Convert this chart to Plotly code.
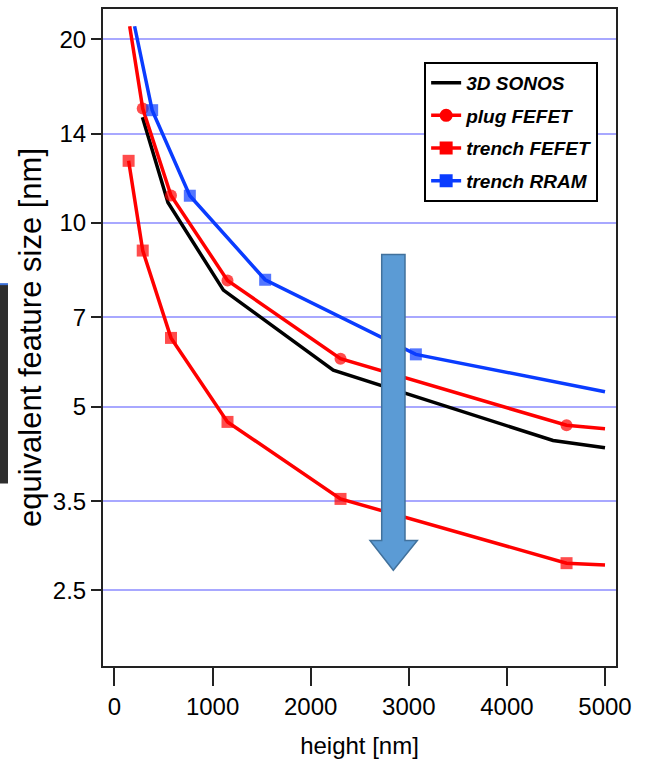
import plotly.graph_objects as go

# Equivalent feature size vs. stack height for 3D memory options
sonos_h = [285, 545, 1110, 2230, 4470, 5000]
sonos_f = [14.9, 10.8, 7.76, 5.74, 4.40, 4.28]

plug_h = [155, 288, 576, 1152, 2304, 4608, 5000]
plug_f = [21.0, 15.4, 11.09, 8.05, 5.99, 4.66, 4.60]
plug_marked = [False, True, True, True, True, True, False]

trench_fefet_h = [144, 288, 576, 1152, 2304, 4608, 5000]
trench_fefet_f = [12.64, 9.01, 6.48, 4.72, 3.53, 2.77, 2.75]
trench_fefet_marked = [True, True, True, True, True, True, False]

rram_h = [205, 384, 768, 1536, 3072, 5000]
rram_f = [21.0, 15.3, 11.08, 8.07, 6.09, 5.29]
rram_marked = [False, True, True, True, True, False]

y_ticks = [2.5, 3.5, 5, 7, 10, 14, 20]
x_ticks = [0, 1000, 2000, 3000, 4000, 5000]

RED = "#ff0000"
BLUE = "#0a3cff"
BLACK = "#000000"
SANS = "Liberation Sans, Arial, sans-serif"
LW = 3.5


def sizes(marked, s):
    return [s if m else 0 for m in marked]


fig = go.Figure()

fig.add_trace(go.Scatter(x=sonos_h, y=sonos_f, mode="lines",
                         line=dict(color=BLACK, width=LW), showlegend=False))
fig.add_trace(go.Scatter(x=plug_h, y=plug_f, mode="lines+markers",
                         line=dict(color=RED, width=LW),
                         marker=dict(symbol="circle", size=sizes(plug_marked, 12), color=RED,
                                     line=dict(width=0)),
                         showlegend=False))
fig.add_trace(go.Scatter(x=trench_fefet_h, y=trench_fefet_f, mode="lines+markers",
                         line=dict(color=RED, width=LW),
                         marker=dict(symbol="square", size=sizes(trench_fefet_marked, 12), color=RED,
                                     line=dict(width=0)),
                         showlegend=False))
fig.add_trace(go.Scatter(x=rram_h, y=rram_f, mode="lines+markers",
                         line=dict(color=BLUE, width=LW),
                         marker=dict(symbol="square", size=sizes(rram_marked, 12), color=BLUE,
                                     line=dict(width=0)),
                         showlegend=False))

# legend entries
legend_items = [
    ("3D SONOS", BLACK, None),
    ("plug FEFET", RED, "circle"),
    ("trench FEFET", RED, "square"),
    ("trench RRAM", BLUE, "square"),
]
for name, color, symbol in legend_items:
    fig.add_trace(go.Scatter(
        x=[None], y=[None], name=name, legendgroup=name,
        mode="lines" if symbol is None else "lines+markers",
        line=dict(color=color, width=LW),
        marker=dict(symbol=symbol or "circle", size=13, color=color),
    ))

# downward trend arrow
arrow_path = ("M 0.5433 0.6263 L 0.5887 0.6263 L 0.5887 0.1912 L 0.6127 0.1912 "
              "L 0.5659 0.1457 L 0.5205 0.1912 L 0.5433 0.1912 Z")
fig.add_shape(type="path", xref="paper", yref="paper", path=arrow_path,
              fillcolor="#5b9bd5", line=dict(color="#41719c", width=1.5), layer="above")

# dark strip at the left edge
fig.add_shape(type="rect", xref="paper", yref="paper",
              x0=-0.2008, x1=-0.1852, y0=0.2777, y1=0.5812,
              fillcolor="#2e2e2e", line=dict(width=0), layer="below")
fig.add_shape(type="line", xref="paper", yref="paper",
              x0=-0.2008, x1=-0.1852, y0=0.5812, y1=0.5812,
              line=dict(color="#3a6fd8", width=2))

fig.update_layout(
    width=651, height=781,
    margin=dict(l=103, r=35, t=7, b=115),
    paper_bgcolor="white", plot_bgcolor="white",
    showlegend=True,
    legend=dict(
        x=0.626, y=0.9196, xanchor="left", yanchor="top",
        bgcolor="white", bordercolor="black", borderwidth=2,
        font=dict(family=SANS, size=19, color="black", style="italic", weight="bold"),
        itemwidth=30, tracegroupgap=5,
    ),
)

fig.update_xaxes(
    range=[-117, 5112],
    tickvals=x_ticks, ticktext=[str(v) for v in x_ticks],
    ticks="outside", ticklen=18, tickwidth=2, tickcolor="#222",
    showline=True, linecolor="#222", linewidth=2, mirror=True,
    showgrid=False, zeroline=False,
    tickfont=dict(family=SANS, size=24, color="black"),
    title=dict(text="height [nm]", font=dict(family=SANS, size=24, color="black"), standoff=18),
)

fig.update_yaxes(
    type="log", range=[0.274, 1.3505],
    tickvals=y_ticks, ticktext=[str(v) for v in y_ticks],
    ticks="outside", ticklen=10, tickwidth=2, tickcolor="#222",
    showline=True, linecolor="#222", linewidth=2, mirror=True,
    showgrid=True, gridcolor="#a8a8ff", gridwidth=1.5,
    zeroline=False,
    tickfont=dict(family=SANS, size=24, color="black"),
    title=dict(text="equivalent feature size [nm]", font=dict(family=SANS, size=31, color="black"), standoff=2),
)

fig.write_html("out.html")
